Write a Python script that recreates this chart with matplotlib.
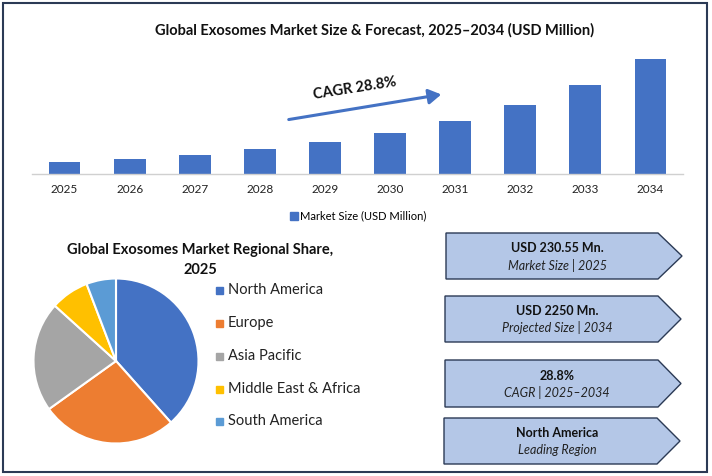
import matplotlib
matplotlib.use("Agg")
import matplotlib.pyplot as plt
from matplotlib.patches import Rectangle, Polygon, FancyArrowPatch
from matplotlib.lines import Line2D

plt.rcParams['font.family'] = ['Lato', 'DejaVu Sans']

# ---- data ----
years = ["2025", "2026", "2027", "2028", "2029", "2030", "2031", "2032", "2033", "2034"]
market_size = [230.55, 285, 375, 480, 630, 805, 1040, 1350, 1740, 2250]
bar_title = "Global Exosomes Market Size & Forecast, 2025\u20132034 (USD Million)"
bar_legend = "Market Size (USD Million)"
cagr_label = "CAGR 28.8%"

regions = ["North America", "Europe", "Asia Pacific", "Middle East & Africa", "South America"]
shares = [38.4, 26.7, 21.6, 7.5, 5.8]
pie_title = "Global Exosomes Market Regional Share,\n2025"

box_main = ["USD 230.55 Mn.", "USD 2250 Mn.", "28.8%", "North America"]
box_sub = ["Market Size | 2025", "Projected Size | 2034", "CAGR | 2025\u20132034", "Leading Region"]

bar_color = "#4472C4"
pie_colors = ["#4472C4", "#ED7D31", "#A5A5A5", "#FFC000", "#5B9BD5"]

W, H = 712, 476
fig = plt.figure(figsize=(W / 100, H / 100), dpi=100)

def fx(px):
    return px / W

def fy(py):
    return 1 - py / H

# outer border
fig.patches.append(Rectangle((fx(2.5), fy(472)), fx(707) - fx(2.5), fy(2.5) - fy(472),
                             transform=fig.transFigure, fill=False,
                             edgecolor="#2B3A55", lw=1.5))

# ---- bar chart ----
base_px, top_px, ymax_px = 174, 40, 59
ax = fig.add_axes([fx(32), fy(base_px), fx(683) - fx(32), (base_px - top_px) / H])
x = list(range(len(years)))
ax.bar(x, market_size, width=0.49, color=bar_color)
ax.set_xlim(-0.5, len(years) - 0.5)
ax.set_ylim(0, max(market_size) * (base_px - top_px) / (base_px - ymax_px))
ax.set_xticks(x)
ax.set_xticklabels(years, fontsize=8.5, color="#222222")
ax.tick_params(axis="x", length=0, pad=7)
ax.set_yticks([])
for s in ["top", "right", "left"]:
    ax.spines[s].set_visible(False)
ax.spines["bottom"].set_color("#D0D0D0")
ax.spines["bottom"].set_linewidth(1.0)

fig.text(fx(375), fy(30), bar_title, ha="center", va="center",
         fontsize=10.5, fontweight="bold", color="#111111")

# CAGR arrow
arr = FancyArrowPatch((fx(286), fy(120)), (fx(444), fy(94)), transform=fig.transFigure,
                      arrowstyle="-|>,head_length=5,head_width=3", color=bar_color,
                      lw=2.2, mutation_scale=1.5)
fig.patches.append(arr)
fig.text(fx(355), fy(88), cagr_label, ha="center", va="center", rotation=9,
         fontsize=10.5, fontweight="bold", color="#111111")

# bar legend
handle = Line2D([], [], marker="s", linestyle="none", markersize=6,
                markerfacecolor=bar_color, markeredgecolor=bar_color)
fig.legend([handle], [bar_legend], loc="center", bbox_to_anchor=(fx(358), fy(216)),
           frameon=False, fontsize=8, handletextpad=0.1, handlelength=0.8)

# ---- pie ----
cx, cy, r = 116, 361, 82.5
pax = fig.add_axes([fx(cx - r), fy(cy + r), 2 * r / W, 2 * r / H])
wedges, _ = pax.pie(shares, colors=pie_colors, startangle=90, counterclock=False,
                    wedgeprops=dict(edgecolor="white", linewidth=1.5))
pax.set_xlim(-1, 1)
pax.set_ylim(-1, 1)
pax.set_aspect("auto")
pax.axis("off")

fig.text(fx(200), fy(260), pie_title, ha="center", va="center", fontsize=10.5,
         fontweight="bold", color="#111111", linespacing=1.5)

leg_y = [290, 323, 356, 389, 421]
for name, col, yy in zip(regions, pie_colors, leg_y):
    fig.patches.append(Rectangle((fx(216), fy(yy + 3.5)), fx(7), 7 / H,
                                 transform=fig.transFigure, color=col))
    fig.text(fx(228), fy(yy), name, ha="left", va="center", fontsize=10.5, color="#222222")

# ---- arrow boxes ----
boxes = [(446, 233, 279, 658, 682), (445, 296, 342, 658, 681),
         (445, 360, 407, 658, 681), (444, 418, 464, 657, 680)]
for (x0, y0, y1, xf, xt), t1, t2 in zip(boxes, box_main, box_sub):
    ym = (y0 + y1) / 2
    pts = [(fx(x0), fy(y0)), (fx(xf), fy(y0)), (fx(xt), fy(ym)),
           (fx(xf), fy(y1)), (fx(x0), fy(y1))]
    fig.patches.append(Polygon(pts, closed=True, transform=fig.transFigure,
                               facecolor="#B4C7E7", edgecolor="#2B3A55", lw=1.0))
    xc = 557
    fig.text(fx(xc), fy(ym - 8), t1, ha="center", va="center", fontsize=9,
             fontweight="bold", color="#111111")
    fig.text(fx(xc), fy(ym + 9), t2, ha="center", va="center", fontsize=9,
             fontstyle="italic", color="#222222")

fig.savefig("out.png", dpi=100)
